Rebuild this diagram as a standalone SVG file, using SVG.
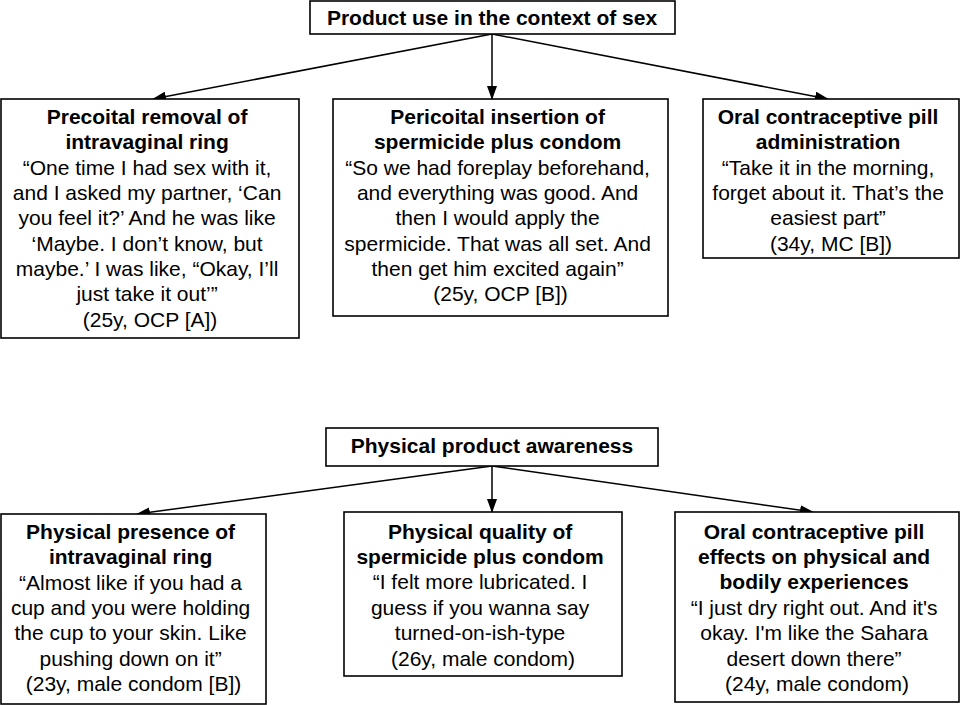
<svg xmlns="http://www.w3.org/2000/svg" width="960" height="705" viewBox="0 0 960 705">
<defs>
<marker id="ah" markerWidth="14" markerHeight="10" refX="13" refY="5" orient="auto" markerUnits="userSpaceOnUse">
<path d="M0,0 L14,5 L0,10 z" fill="#000"/>
</marker>
<style>
.box{fill:#fff;stroke:#000;stroke-width:1.6}
.t{font-family:"Liberation Sans",Arial,sans-serif;font-size:21px;fill:#000;text-anchor:middle}
.b{font-weight:bold}
.c{stroke:#000;stroke-width:1.5;fill:none;marker-end:url(#ah)}
</style>
</defs>
<rect width="960" height="705" fill="#fff"/>
<g id="connectors">
<line class="c" x1="492" y1="34" x2="153" y2="99"/>
<line class="c" x1="492" y1="34" x2="492" y2="99"/>
<line class="c" x1="492" y1="34" x2="828" y2="99"/>
<line class="c" x1="492" y1="466" x2="137" y2="514"/>
<line class="c" x1="492" y1="466" x2="492" y2="512"/>
<line class="c" x1="492" y1="466" x2="813" y2="512"/>
</g>
<g id="title1">
<rect class="box" x="310" y="1" width="365" height="33"/>
<text class="t b" x="492" y="25">Product use in the context of sex</text>
</g>
<g id="precoital">
<rect class="box" x="1" y="99" width="298" height="239"/>
<text class="t" x="150">
<tspan class="b" x="150" y="124">Precoital removal of</tspan>
<tspan class="b" x="150" y="149.3">intravaginal ring</tspan>
<tspan x="150" y="174.6">“One time I had sex with it,</tspan>
<tspan x="150" y="200">and I asked my partner, ‘Can</tspan>
<tspan x="150" y="225.3">you feel it?’ And he was like</tspan>
<tspan x="150" y="250.6">‘Maybe. I don’t know, but</tspan>
<tspan x="150" y="276">maybe.’ I was like, “Okay, I’ll</tspan>
<tspan x="150" y="301.3">just take it out’”</tspan>
<tspan x="150" y="326.6">(25y, OCP [A])</tspan>
</text>
</g>
<g id="pericoital">
<rect class="box" x="333" y="99" width="335" height="217"/>
<text class="t">
<tspan class="b" x="500.5" y="124">Pericoital insertion of</tspan>
<tspan class="b" x="500.5" y="149.3">spermicide plus condom</tspan>
<tspan x="500.5" y="174.6">“So we had foreplay beforehand,</tspan>
<tspan x="500.5" y="200">and everything was good. And</tspan>
<tspan x="500.5" y="225.3">then I would apply the</tspan>
<tspan x="500.5" y="250.6">spermicide. That was all set. And</tspan>
<tspan x="500.5" y="276">then get him excited again”</tspan>
<tspan x="500.5" y="301.3">(25y, OCP [B])</tspan>
</text>
</g>
<g id="ocpadmin">
<rect class="box" x="703" y="99" width="256" height="159"/>
<text class="t">
<tspan class="b" x="831" y="124">Oral contraceptive pill</tspan>
<tspan class="b" x="831" y="149.3">administration</tspan>
<tspan x="831" y="174.6">“Take it in the morning,</tspan>
<tspan x="831" y="200">forget about it. That’s the</tspan>
<tspan x="831" y="225.3">easiest part”</tspan>
<tspan x="831" y="250.6">(34y, MC [B])</tspan>
</text>
</g>
<g id="title2">
<rect class="box" x="326" y="428" width="332" height="38"/>
<text class="t b" x="492" y="453">Physical product awareness</text>
</g>
<g id="presence">
<rect class="box" x="1" y="514" width="265" height="190"/>
<text class="t">
<tspan class="b" x="133.5" y="539">Physical presence of</tspan>
<tspan class="b" x="133.5" y="564.3">intravaginal ring</tspan>
<tspan x="133.5" y="589.6">“Almost like if you had a</tspan>
<tspan x="133.5" y="615">cup and you were holding</tspan>
<tspan x="133.5" y="640.3">the cup to your skin. Like</tspan>
<tspan x="133.5" y="665.6">pushing down on it”</tspan>
<tspan x="133.5" y="691">(23y, male condom [B])</tspan>
</text>
</g>
<g id="quality">
<rect class="box" x="344" y="512" width="278" height="164"/>
<text class="t">
<tspan class="b" x="483" y="538.5">Physical quality of</tspan>
<tspan class="b" x="483" y="564">spermicide plus condom</tspan>
<tspan x="483" y="589.2">“I felt more lubricated. I</tspan>
<tspan x="483" y="614.5">guess if you wanna say</tspan>
<tspan x="483" y="640">turned-on-ish-type</tspan>
<tspan x="483" y="665.5">(26y, male condom)</tspan>
</text>
</g>
<g id="effects">
<rect class="box" x="675" y="512" width="284" height="190"/>
<text class="t">
<tspan class="b" x="817" y="538.5">Oral contraceptive pill</tspan>
<tspan class="b" x="817" y="564">effects on physical and</tspan>
<tspan class="b" x="817" y="589.2">bodily experiences</tspan>
<tspan x="817" y="614.5">“I just dry right out. And it's</tspan>
<tspan x="817" y="640">okay. I'm like the Sahara</tspan>
<tspan x="817" y="665.5">desert down there”</tspan>
<tspan x="817" y="690.8">(24y, male condom)</tspan>
</text>
</g>
</svg>
